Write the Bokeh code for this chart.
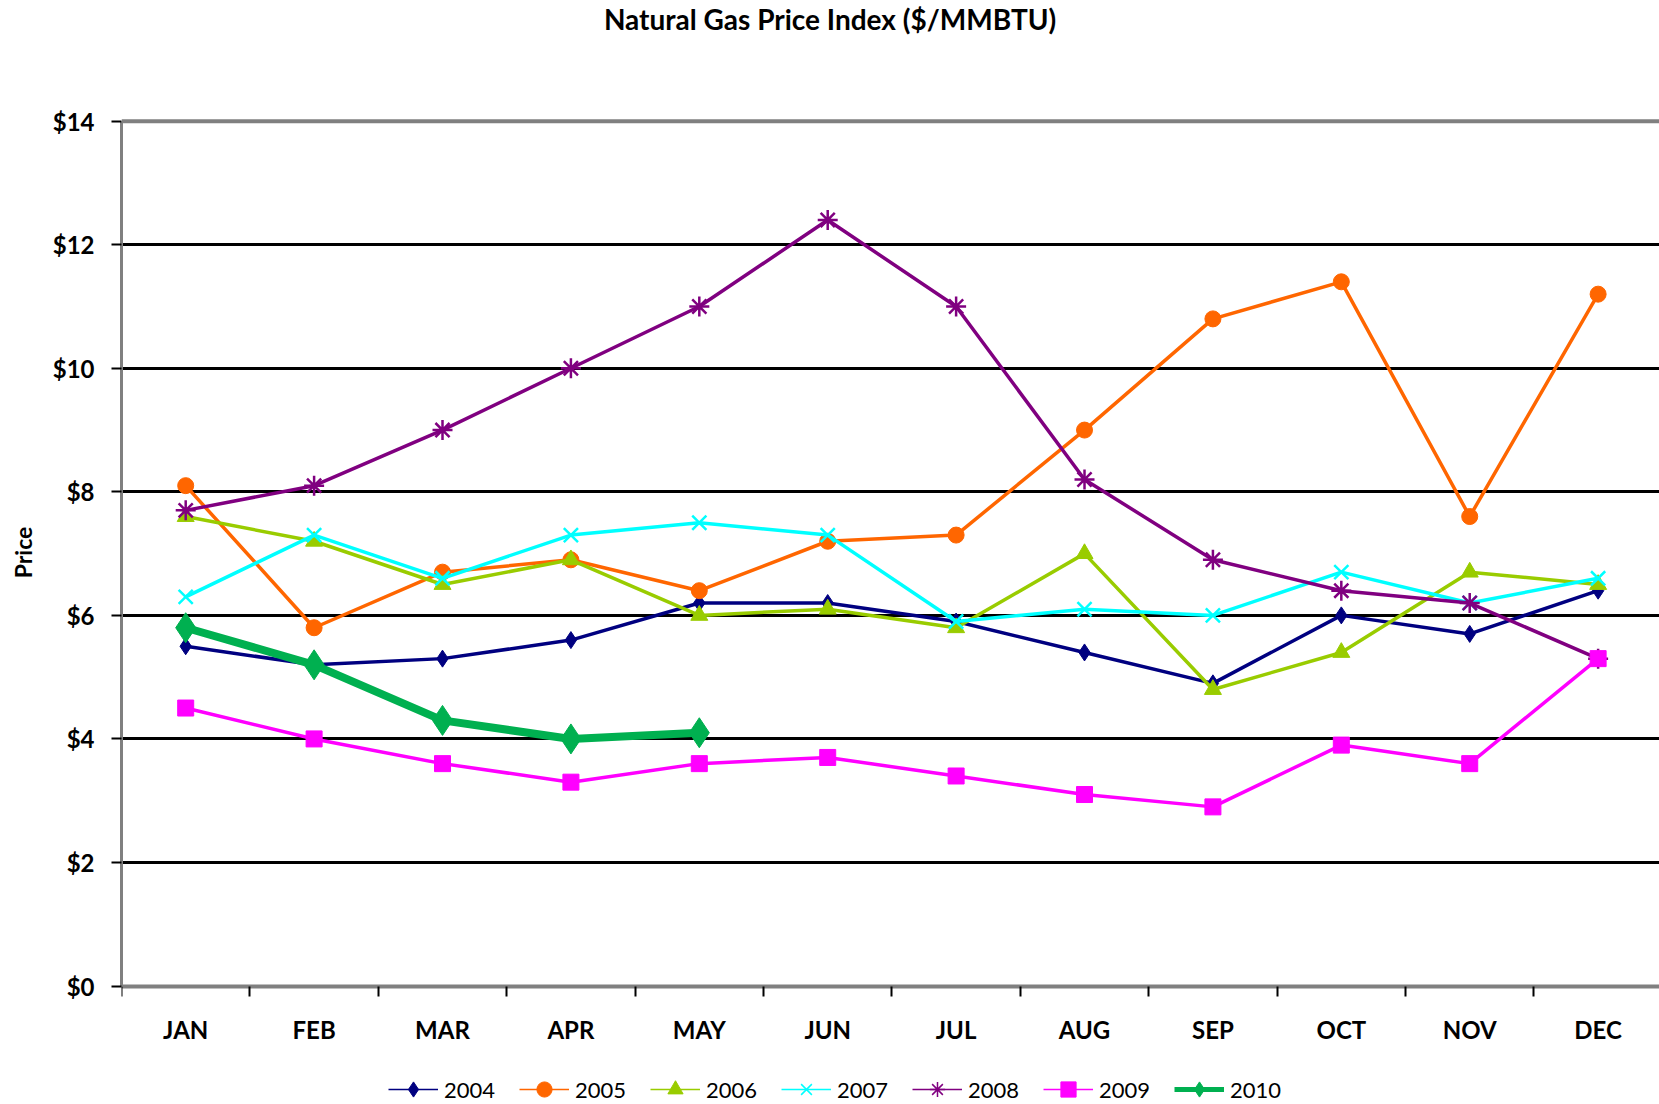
from bokeh.plotting import figure
from bokeh.models import FixedTicker, Legend, LegendItem, Span, Range1d, Label
from bokeh.embed import file_html
from bokeh.resources import INLINE

months = ["JAN", "FEB", "MAR", "APR", "MAY", "JUN", "JUL", "AUG", "SEP", "OCT", "NOV", "DEC"]
y_ticks = [0, 2, 4, 6, 8, 10, 12, 14]
y_tick_labels = ["$0", "$2", "$4", "$6", "$8", "$10", "$12", "$14"]

years = ["2004", "2005", "2006", "2007", "2008", "2009", "2010"]
p2004 = [5.5, 5.2, 5.3, 5.6, 6.2, 6.2, 5.9, 5.4, 4.9, 6.0, 5.7, 6.4]
p2005 = [8.1, 5.8, 6.7, 6.9, 6.4, 7.2, 7.3, 9.0, 10.8, 11.4, 7.6, 11.2]
p2006 = [7.6, 7.2, 6.5, 6.9, 6.0, 6.1, 5.8, 7.0, 4.8, 5.4, 6.7, 6.5]
p2007 = [6.3, 7.3, 6.6, 7.3, 7.5, 7.3, 5.9, 6.1, 6.0, 6.7, 6.2, 6.6]
p2008 = [7.7, 8.1, 9.0, 10.0, 11.0, 12.4, 11.0, 8.2, 6.9, 6.4, 6.2, 5.3]
p2009 = [4.5, 4.0, 3.6, 3.3, 3.6, 3.7, 3.4, 3.1, 2.9, 3.9, 3.6, 5.3]
p2010 = [5.8, 5.2, 4.3, 4.0, 4.1]
series = [p2004, p2005, p2006, p2007, p2008, p2009, p2010]

colors = ["#000080", "#FF6600", "#99CC00", "#00FFFF", "#800080", "#FF00FF", "#00B050"]
markers = ["diamond", "circle", "triangle", "x", "asterisk", "square", "diamond"]
msizes = [17, 16, 17, 20, 20, 16, 30]
lwidths = [3.5, 3.5, 3.5, 3.5, 3.5, 3.5, 8]
legend_lwidths = [1.7, 1.7, 1.7, 1.7, 1.7, 1.7, 5]
legend_msizes = [17, 15, 15, 17, 18, 15, 17]

FONT = "Lato"
NAN = float("nan")

# The frame covers the whole canvas height; the x axis is pinned at y = 0.
p = figure(width=1659, height=1104, output_backend="svg", toolbar_location=None,
           x_range=Range1d(0, 11.978), y_range=Range1d(-1.918, 15.954),
           min_border_left=121, min_border_right=0, min_border_top=0, min_border_bottom=0)

p.outline_line_color = None
p.background_fill_color = "white"
p.border_fill_color = "white"

title = Label(x=5.518, y=15.65, text="Natural Gas Price Index ($/MMBTU)",
              text_align="center", text_baseline="middle",
              text_font=FONT, text_font_size="28px", text_font_style="bold", text_color="black")
p.add_layout(title)

# x axis drawn at y = 0
xa = p.xaxis[0]
xa.fixed_location = 0
xa.ticker = FixedTicker(ticks=[i + 0.5 for i in range(len(months))],
                        minor_ticks=list(range(len(months) + 1)))
xa.major_label_overrides = {i + 0.5: m for i, m in enumerate(months)}
xa.major_tick_out = 0
xa.major_tick_in = 0
xa.minor_tick_out = 10
xa.minor_tick_in = 0
xa.minor_tick_line_color = "black"
xa.minor_tick_line_width = 2
xa.axis_line_color = "#808080"
xa.axis_line_width = 4
xa.major_label_standoff = 19
xa.major_label_text_font = FONT
xa.major_label_text_font_size = "24px"
xa.major_label_text_font_style = "bold"
xa.major_label_text_color = "black"

# y axis
ya = p.yaxis[0]
ya.bounds = (0, 14)
ya.ticker = FixedTicker(ticks=y_ticks, minor_ticks=[])
ya.major_label_overrides = {t: l for t, l in zip(y_ticks, y_tick_labels)}
ya.major_tick_out = 10
ya.major_tick_in = 0
ya.major_tick_line_color = "black"
ya.major_tick_line_width = 2
ya.minor_tick_line_color = None
ya.axis_line_color = "#808080"
ya.axis_line_width = 3
ya.major_label_standoff = 17
ya.major_label_text_font = FONT
ya.major_label_text_font_size = "24px"
ya.major_label_text_font_style = "bold"
ya.major_label_text_color = "black"
ya.axis_label = "Price"
ya.axis_label_text_font = FONT
ya.axis_label_text_font_size = "23px"
ya.axis_label_text_font_style = "bold"
ya.axis_label_text_color = "black"
ya.axis_label_standoff = 13

p.xgrid.grid_line_color = None
p.ygrid.ticker = FixedTicker(ticks=y_ticks[1:-1])
p.ygrid.grid_line_color = "black"
p.ygrid.grid_line_width = 3

p.add_layout(Span(location=14, dimension="width", line_color="#808080", line_width=4))

items = []
for yr, vals, c, m, ms, lw, llw, lms in zip(years, series, colors, markers, msizes,
                                            lwidths, legend_lwidths, legend_msizes):
    xs = [i + 0.5 for i in range(len(vals))]
    p.line(xs, vals, line_color=c, line_width=lw)
    if m in ("x", "asterisk"):
        p.scatter(xs, vals, marker=m, size=ms, line_color=c, line_width=2.5)
    else:
        p.scatter(xs, vals, marker=m, size=ms, fill_color=c, line_color=c, line_width=1)
    # legend key glyphs (thin line + marker, as in the original legend); no visible data
    k1 = p.line([NAN], [NAN], line_color=c, line_width=llw)
    if m in ("x", "asterisk"):
        k2 = p.scatter([NAN], [NAN], marker=m, size=lms, line_color=c, line_width=1.5)
    else:
        k2 = p.scatter([NAN], [NAN], marker=m, size=lms, fill_color=c, line_color=c, line_width=1)
    items.append(LegendItem(label=yr, renderers=[k1, k2]))

legend = Legend(items=items, location=(267, -4), orientation="horizontal",
                border_line_color=None, background_fill_alpha=0, padding=0, margin=0,
                spacing=22, glyph_width=50, glyph_height=38, label_width=53, label_standoff=6,
                label_text_font=FONT, label_text_font_size="22px", label_text_color="black")
p.add_layout(legend, "center")

open("out.html", "w").write(file_html(p, INLINE))
